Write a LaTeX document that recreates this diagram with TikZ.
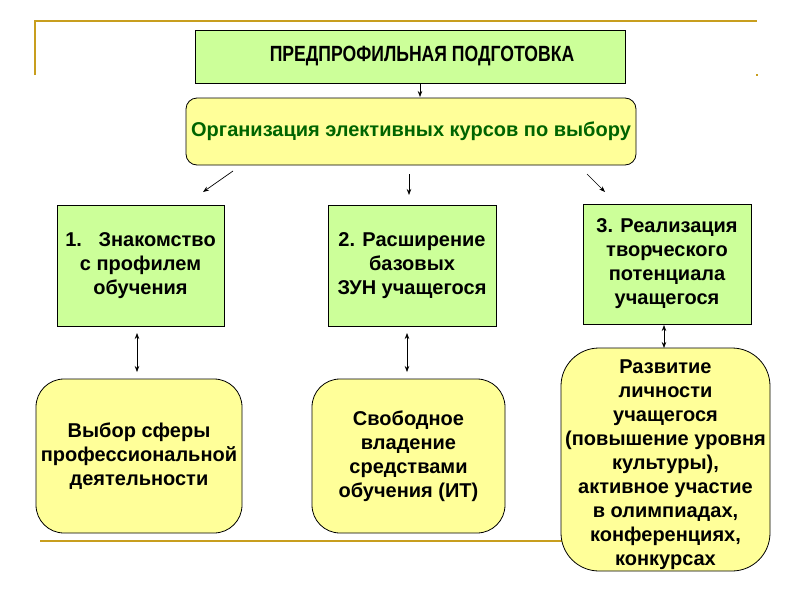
\documentclass[tikz,border=0pt]{standalone}
\usepackage{fontspec}
\setmainfont{Liberation Sans}
\usetikzlibrary{arrows.meta}
\definecolor{boxgreen}{RGB}{204,255,153}
\definecolor{boxyellow}{RGB}{255,255,153}
\definecolor{gold}{RGB}{200,158,30}
\definecolor{darkgreen}{RGB}{0,100,0}
\tikzset{
  boxfont/.style={font=\bfseries\fontsize{20}{24}\selectfont},
  greenbox/.style={draw=black, line width=0.8pt, fill=boxgreen, rectangle, align=center, inner sep=0pt, boxfont},
  yellowbox/.style={draw=black, line width=0.8pt, fill=boxyellow, rectangle, align=center, inner sep=0pt, boxfont},
  conn/.style={draw=black, line width=0.7pt, -{Stealth[length=6pt,width=4.5pt]}},
  dconn/.style={draw=black, line width=0.7pt, {Stealth[length=6pt,width=4.5pt]}-{Stealth[length=6pt,width=4.5pt]}},
  goldline/.style={draw=gold, line width=2.5pt}
}
\begin{document}
\begin{tikzpicture}[x=1pt,y=-1pt]
\useasboundingbox (0,0) rectangle (800,600);
% gold frame lines
\draw[goldline] (35,75) -- (35,21) -- (757,21);
\fill[gold] (756,74) rectangle (758,76);
\draw[goldline] (40,541) -- (565,541);

% top box
\node[greenbox, minimum width=430pt, minimum height=53pt] (top) at (410,56.5)
  {\hspace*{24pt}\scalebox{0.8}[1]{\fontsize{22}{24}\selectfont ПРЕДПРОФИЛЬНАЯ ПОДГОТОВКА}};
% organisation box
\node[yellowbox, rounded corners=11pt, minimum width=450pt, minimum height=67pt,
  text=darkgreen] (org) at (411,131.5) {Организация элективных курсов по выбору};

% level 2
\node[greenbox, minimum width=167pt, minimum height=121pt] (b1) at (140.5,265.5)
  {1.\ \ \ Знакомство\\с профилем\\обучения};
\node[greenbox, minimum width=168pt, minimum height=121pt] (b2) at (412,265.5)
  {2. Расширение\\базовых\\ЗУН учащегося};
\node[greenbox, minimum width=168pt, minimum height=120pt] (b3) at (667,264)
  {3. Реализация\\творческого\\потенциала\\учащегося};

% level 3
\node[yellowbox, rounded corners=28pt, minimum width=206pt, minimum height=154pt] (b4) at (139,456)
  {Выбор сферы\\профессиональной\\деятельности};
\node[yellowbox, rounded corners=28pt, minimum width=193pt, minimum height=154pt] (b5) at (408.5,456)
  {Свободное\\владение\\средствами\\обучения (ИТ)};
\node[yellowbox, rounded corners=38pt, minimum width=209pt, minimum height=223pt] (b6) at (665.5,459.5) {};
\node[align=center, inner sep=0pt, boxfont] (b6t) at ([yshift=-5pt]b6.center)
  {Развитие\\личности\\учащегося\\(повышение уровня\\культуры),\\активное участие\\в олимпиадах,\\конференциях,\\конкурсах};

% connector coordinates
\coordinate (a0) at (420,83);
\coordinate (a0e) at (420,97);
\coordinate (l1) at (233,171);
\coordinate (l1e) at (203,192);
\coordinate (m1) at (409,174);
\coordinate (m1e) at (409,195);
\coordinate (r1) at (587,174);
\coordinate (r1e) at (605,192);
\coordinate (d1) at (137,333);
\coordinate (d1e) at (137,372);
\coordinate (d2) at (407,333);
\coordinate (d2e) at (407,372);
\coordinate (d3) at (664,325);
\coordinate (d3e) at (664,348);

\draw[conn] (a0) -- (a0e);
\draw[conn] (l1) -- (l1e);
\draw[conn] (m1) -- (m1e);
\draw[conn] (r1) -- (r1e);
\draw[dconn] (d1) -- (d1e);
\draw[dconn] (d2) -- (d2e);
\draw[dconn] (d3) -- (d3e);
\end{tikzpicture}
\end{document}
